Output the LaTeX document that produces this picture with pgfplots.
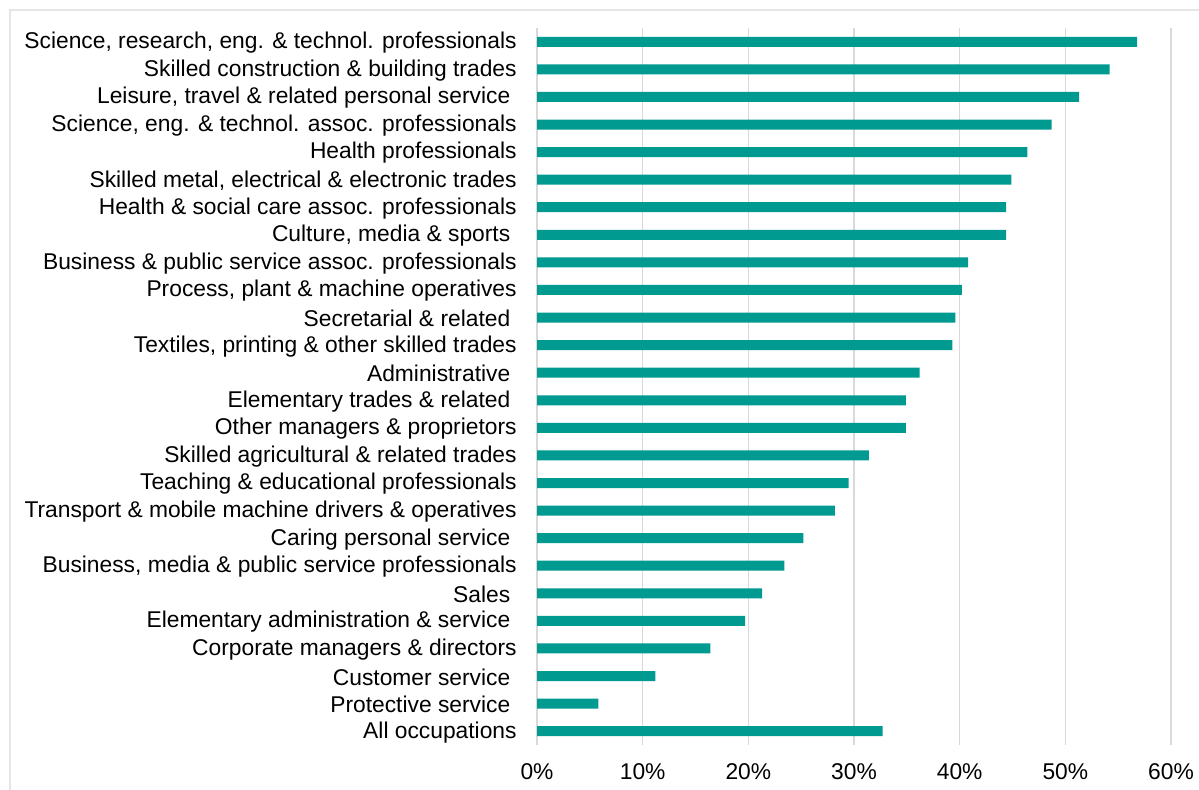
\documentclass[border=0pt]{standalone}
\usepackage{fontspec}
\setmainfont{Liberation Sans}
\usepackage{pgfplots}
\pgfplotsset{compat=1.18}
\definecolor{barteal}{RGB}{0,154,144}
\definecolor{gridgray}{RGB}{217,217,217}
\definecolor{framegray}{RGB}{229,229,229}
% trailing space kept in some occupation names
\newcommand{\tsp}{\kern0.278em}

\begin{document}
\begin{tikzpicture}[x=1pt,y=1pt]
\useasboundingbox (0,0) rectangle (599.5,395);
% chart frame (left and top edges)
\draw[framegray, line width=1pt] (4.75,-1) -- (4.75,390) -- (601,390);
\begin{axis}[
  at={(268.5pt,22.5pt)}, anchor=south west,
  scale only axis, width=317pt, height=358.5pt,
  xbar, bar width=5pt,
  xmin=0, xmax=60, ymin=-0.5, ymax=25.5,
  y dir=reverse,
  /pgf/number format/assume math mode=true,
  xtick={0,10,...,60},
  xticklabel={\pgfmathprintnumber{\tick}\%},
  ytick={0,...,25},
  yticklabels={
    {Science, research, eng. \& technol. professionals},
    {Skilled construction \& building trades},
    {Leisure, travel \& related personal service\tsp},
    {Science, eng. \& technol. assoc. professionals},
    {Health professionals},
    {Skilled metal, electrical \& electronic trades},
    {Health \& social care assoc. professionals},
    {Culture, media \& sports\tsp},
    {Business \& public service assoc. professionals},
    {Process, plant \& machine operatives},
    {Secretarial \& related\tsp},
    {Textiles, printing \& other skilled trades},
    {Administrative\tsp},
    {Elementary trades \& related\tsp},
    {Other managers \& proprietors},
    {Skilled agricultural \& related trades},
    {Teaching \& educational professionals},
    {Transport \& mobile machine drivers \& operatives},
    {Caring personal service\tsp},
    {Business, media \& public service professionals},
    {Sales\tsp},
    {Elementary administration \& service\tsp},
    {Corporate managers \& directors},
    {Customer service\tsp},
    {Protective service\tsp},
    {All occupations}},
  xmajorgrids,
  major grid style={gridgray, line width=0.6pt},
  axis line style={draw=none},
  major tick length=0pt,
  tick style={draw=none},
  tick label style={font=\fontsize{11.4}{13}\selectfont, text=black},
  xticklabel style={inner sep=0pt, anchor=north, yshift=-9pt},
  yticklabel style={inner sep=0pt, anchor=east, xshift=-10pt, yshift=-0.5pt},
]
\addplot[fill=barteal, draw=none] coordinates {
  (56.8,0) (54.2,1) (51.3,2) (48.7,3) (46.4,4) (44.9,5) (44.4,6)
  (44.4,7) (40.8,8) (40.2,9) (39.6,10) (39.3,11) (36.2,12) (34.9,13)
  (34.9,14) (31.4,15) (29.5,16) (28.2,17) (25.2,18) (23.4,19) (21.3,20)
  (19.7,21) (16.4,22) (11.2,23) (5.8,24) (32.7,25)
};
\end{axis}
\end{tikzpicture}
\end{document}
